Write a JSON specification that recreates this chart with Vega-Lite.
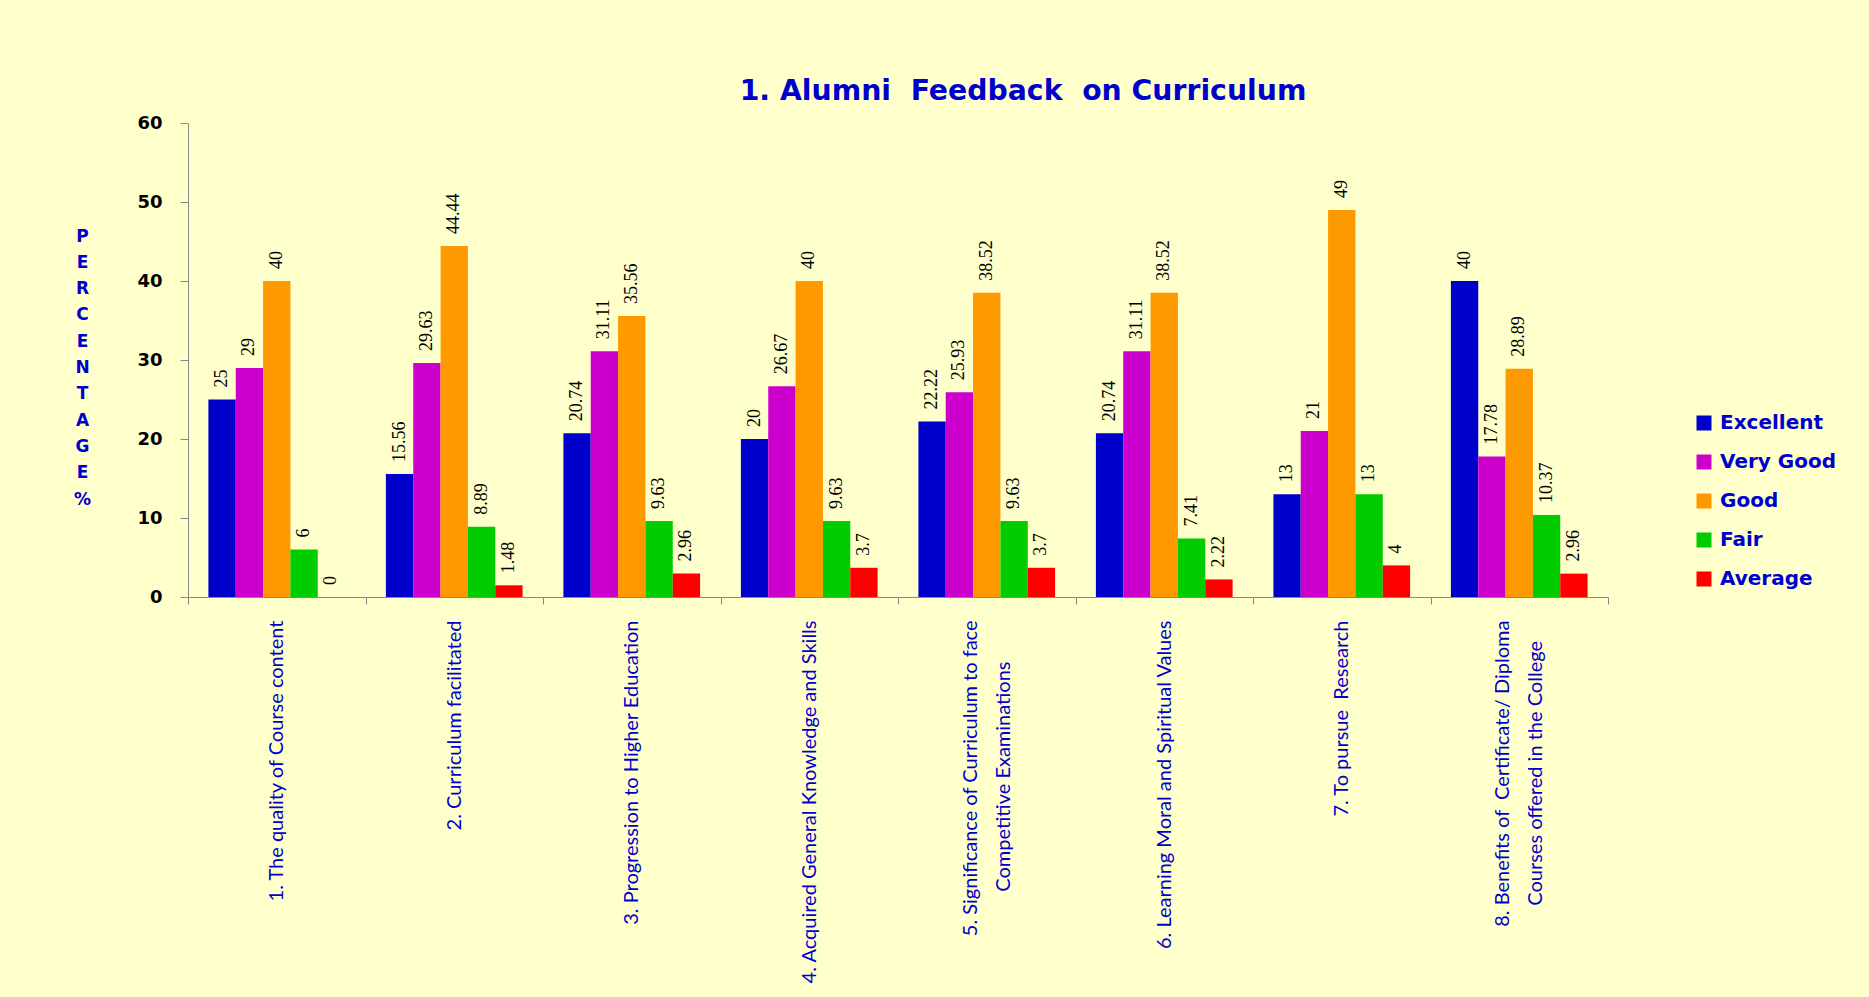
{
  "$schema": "https://vega.github.io/schema/vega-lite/v6.json",
  "width": 1420,
  "height": 474,
  "autosize": {"type": "none"},
  "padding": {"left": 188, "top": 123, "right": 261, "bottom": 400},
  "background": "#FFFFCC",
  "title": {
    "text": "1. Alumni\u00a0 Feedback\u00a0 on Curriculum",
    "font": "DejaVu Sans",
    "fontSize": 28.3,
    "fontWeight": "bold",
    "color": "#0000CC",
    "anchor": "middle",
    "frame": "group",
    "dx": 125,
    "baseline": "alphabetic",
    "offset": -14
  },
  "data": {
    "values": [
      {"q": "1. The quality of Course content", "r": "Excellent", "v": 25},
      {"q": "1. The quality of Course content", "r": "Very Good", "v": 29},
      {"q": "1. The quality of Course content", "r": "Good", "v": 40},
      {"q": "1. The quality of Course content", "r": "Fair", "v": 6},
      {"q": "1. The quality of Course content", "r": "Average", "v": 0},
      {"q": "2. Curriculum facilitated", "r": "Excellent", "v": 15.56},
      {"q": "2. Curriculum facilitated", "r": "Very Good", "v": 29.63},
      {"q": "2. Curriculum facilitated", "r": "Good", "v": 44.44},
      {"q": "2. Curriculum facilitated", "r": "Fair", "v": 8.89},
      {"q": "2. Curriculum facilitated", "r": "Average", "v": 1.48},
      {"q": "3. Progression to Higher Education", "r": "Excellent", "v": 20.74},
      {"q": "3. Progression to Higher Education", "r": "Very Good", "v": 31.11},
      {"q": "3. Progression to Higher Education", "r": "Good", "v": 35.56},
      {"q": "3. Progression to Higher Education", "r": "Fair", "v": 9.63},
      {"q": "3. Progression to Higher Education", "r": "Average", "v": 2.96},
      {"q": "4. Acquired General Knowledge and Skills", "r": "Excellent", "v": 20},
      {"q": "4. Acquired General Knowledge and Skills", "r": "Very Good", "v": 26.67},
      {"q": "4. Acquired General Knowledge and Skills", "r": "Good", "v": 40},
      {"q": "4. Acquired General Knowledge and Skills", "r": "Fair", "v": 9.63},
      {"q": "4. Acquired General Knowledge and Skills", "r": "Average", "v": 3.7},
      {"q": "5. Significance of Curriculum to face|Competitive Examinations\u00a0\u00a0\u00a0\u00a0\u00a0\u00a0\u00a0\u00a0\u200b", "r": "Excellent", "v": 22.22},
      {"q": "5. Significance of Curriculum to face|Competitive Examinations\u00a0\u00a0\u00a0\u00a0\u00a0\u00a0\u00a0\u00a0\u200b", "r": "Very Good", "v": 25.93},
      {"q": "5. Significance of Curriculum to face|Competitive Examinations\u00a0\u00a0\u00a0\u00a0\u00a0\u00a0\u00a0\u00a0\u200b", "r": "Good", "v": 38.52},
      {"q": "5. Significance of Curriculum to face|Competitive Examinations\u00a0\u00a0\u00a0\u00a0\u00a0\u00a0\u00a0\u00a0\u200b", "r": "Fair", "v": 9.63},
      {"q": "5. Significance of Curriculum to face|Competitive Examinations\u00a0\u00a0\u00a0\u00a0\u00a0\u00a0\u00a0\u00a0\u200b", "r": "Average", "v": 3.7},
      {"q": "6. Learning Moral and Spiritual Values", "r": "Excellent", "v": 20.74},
      {"q": "6. Learning Moral and Spiritual Values", "r": "Very Good", "v": 31.11},
      {"q": "6. Learning Moral and Spiritual Values", "r": "Good", "v": 38.52},
      {"q": "6. Learning Moral and Spiritual Values", "r": "Fair", "v": 7.41},
      {"q": "6. Learning Moral and Spiritual Values", "r": "Average", "v": 2.22},
      {"q": "7. To pursue\u00a0 Research", "r": "Excellent", "v": 13},
      {"q": "7. To pursue\u00a0 Research", "r": "Very Good", "v": 21},
      {"q": "7. To pursue\u00a0 Research", "r": "Good", "v": 49},
      {"q": "7. To pursue\u00a0 Research", "r": "Fair", "v": 13},
      {"q": "7. To pursue\u00a0 Research", "r": "Average", "v": 4},
      {"q": "8. Benefits of\u00a0 Certificate/ Diploma|Courses offered in the College\u00a0\u00a0\u00a0\u00a0\u200b", "r": "Excellent", "v": 40},
      {"q": "8. Benefits of\u00a0 Certificate/ Diploma|Courses offered in the College\u00a0\u00a0\u00a0\u00a0\u200b", "r": "Very Good", "v": 17.78},
      {"q": "8. Benefits of\u00a0 Certificate/ Diploma|Courses offered in the College\u00a0\u00a0\u00a0\u00a0\u200b", "r": "Good", "v": 28.89},
      {"q": "8. Benefits of\u00a0 Certificate/ Diploma|Courses offered in the College\u00a0\u00a0\u00a0\u00a0\u200b", "r": "Fair", "v": 10.37},
      {"q": "8. Benefits of\u00a0 Certificate/ Diploma|Courses offered in the College\u00a0\u00a0\u00a0\u00a0\u200b", "r": "Average", "v": 2.96}
    ]
  },
  "encoding": {
    "x": {
      "field": "q",
      "type": "nominal",
      "sort": null,
      "scale": {"paddingInner": 0, "paddingOuter": 0},
      "axis": {
        "title": null,
        "labelAngle": -90,
        "labelAlign": "right",
        "labelBaseline": "middle",
        "labelExpr": "indexof(datum.label, '|') >= 0 ? [split(datum.label, '|')[0], '\u200b', split(datum.label, '|')[1]] : ['\u200b', datum.label]",
        "labelOffset": -16.5,
        "labelFont": "Lato",
        "labelFontSize": 20,
        "labelColor": "#0000CC",
        "labelLimit": 0,
        "labelOverlap": false,
        "labelBound": false,
        "labelPadding": 16,
        "labelLineHeight": 16.5,
        "tickBand": "extent",
        "tickSize": 7,
        "tickColor": "#888888",
        "domainColor": "#888888",
        "grid": false
      }
    },
    "xOffset": {
      "field": "r",
      "type": "nominal",
      "sort": ["Excellent", "Very Good", "Good", "Fair", "Average"],
      "scale": {"paddingInner": 0, "paddingOuter": 0.746}
    },
    "y": {
      "field": "v",
      "type": "quantitative",
      "scale": {"domain": [0, 60], "nice": false},
      "axis": {
        "values": [0, 10, 20, 30, 40, 50, 60],
        "grid": false,
        "title": ["P", "E", "R", "C", "E", "N", "T", "A", "G", "E", "%"],
        "titleAngle": 0,
        "titleAlign": "center",
        "titleBaseline": "top",
        "titleX": -106,
        "titleY": 105,
        "titleLineHeight": 26.3,
        "titleFont": "DejaVu Sans",
        "titleFontWeight": "bold",
        "titleFontSize": 17,
        "titleColor": "#0000CC",
        "labelFont": "DejaVu Sans",
        "labelFontWeight": "bold",
        "labelFontSize": 18,
        "labelColor": "#000000",
        "labelPadding": 18,
        "tickSize": 8,
        "tickColor": "#888888",
        "domainColor": "#888888"
      }
    }
  },
  "layer": [
    {
      "mark": {"type": "bar"},
      "encoding": {
        "color": {
          "field": "r",
          "type": "nominal",
          "sort": ["Excellent", "Very Good", "Good", "Fair", "Average"],
          "scale": {
            "domain": ["Excellent", "Very Good", "Good", "Fair", "Average"],
            "range": ["#0000CC", "#CC00CC", "#FF9900", "#00CC00", "#FF0000"]
          },
          "legend": {
            "title": null,
            "orient": "none",
            "legendX": 1506,
            "legendY": 290,
            "padding": 0,
            "symbolType": "square",
            "symbolSize": 225,
            "symbolStrokeWidth": 0,
            "labelFont": "DejaVu Sans",
            "labelFontWeight": "bold",
            "labelFontSize": 20,
            "labelColor": "#0000CC",
            "labelOffset": 6,
            "rowPadding": 19,
            "labelLimit": 0
          }
        }
      }
    },
    {
      "mark": {
        "type": "text",
        "angle": -90,
        "align": "left",
        "baseline": "middle",
        "dx": 12,
        "font": "Liberation Serif",
        "fontSize": 18,
        "color": "#000000"
      },
      "encoding": {
        "text": {"field": "v", "type": "quantitative"}
      }
    }
  ],
  "config": {
    "view": {"stroke": null}
  }
}
